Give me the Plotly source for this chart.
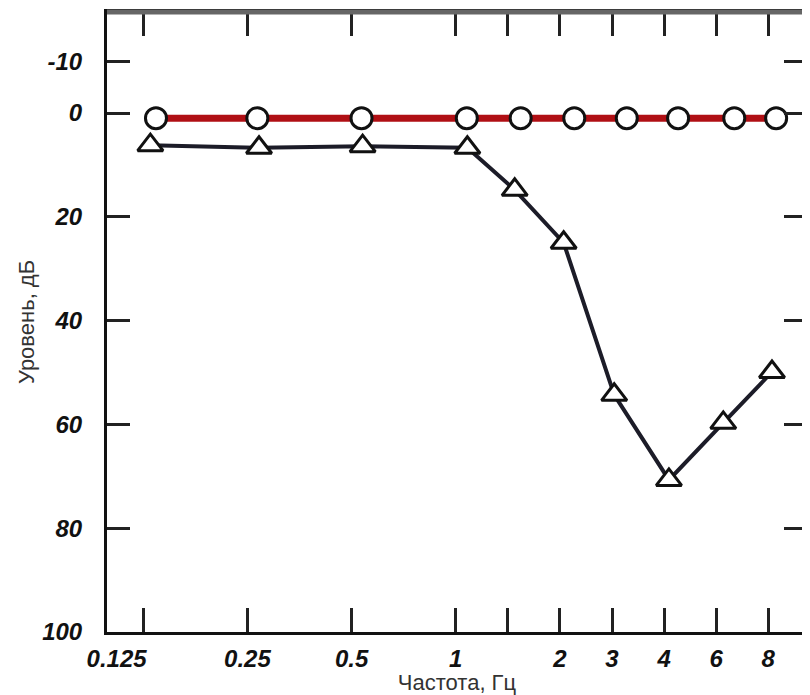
import plotly.graph_objects as go

# Data
freq_circle = [0.136, 0.267, 0.534, 1.076, 1.54, 2.2, 3.12, 4.39, 6.38, 8.43]
level_circle = [1, 1, 1, 1, 1, 1, 1, 1, 1, 1]

freq_triangle = [0.131, 0.27, 0.538, 1.08, 1.48, 2.05, 2.87, 4.13, 5.93, 8.2]
level_triangle = [6.2, 6.7, 6.4, 6.7, 14.8, 25.0, 54.3, 70.7, 59.7, 49.9]

x_tick_vals = [0.125, 0.25, 0.5, 1, 1.4142, 2, 2.8284, 4, 5.6569, 8]
x_tick_text = ["0.125" + "\u00a0" * 8, "0.25", "0.5", "1", "", "2", "3", "4", "6", "8"]
y_tick_vals = [-10, 0, 20, 40, 60, 80, 100]
y_tick_text = ["-10", "0", "20", "40", "60", "80", "100"]

tick_font = dict(family="Liberation Sans", size=24, color="#111", style="italic", weight="bold")
title_font = dict(family="Liberation Sans", size=22, color="#333")

fig = go.Figure()

fig.add_trace(go.Scatter(
    x=freq_triangle, y=level_triangle, mode="lines+markers",
    line=dict(color="#1c1c28", width=4),
    marker=dict(symbol="triangle-up", size=22, color="white",
                line=dict(color="#111", width=3)),
    showlegend=False,
))
fig.add_trace(go.Scatter(
    x=freq_circle, y=level_circle, mode="lines+markers",
    line=dict(color="#b00f14", width=7),
    marker=dict(symbol="circle", size=21, color="white",
                line=dict(color="#111", width=3)),
    showlegend=False,
))

fig.update_layout(
    width=802, height=687,
    margin=dict(l=99, r=0, t=4, b=63),
    paper_bgcolor="white", plot_bgcolor="white",
    xaxis=dict(
        type="log",
        range=[-1.008, 1.015],
        tickmode="array", tickvals=x_tick_vals, ticktext=x_tick_text,
        ticks="inside", ticklen=24, tickwidth=3, tickcolor="#222",
        showline=True, linecolor="#111", linewidth=3, mirror="ticks",
        showgrid=False, zeroline=False,
        tickfont=tick_font, ticklabelstandoff=3,
        title=dict(text="Частота, Гц", font=title_font, standoff=1),
    ),
    yaxis=dict(
        range=[100, -19.46],
        tickmode="array", tickvals=y_tick_vals, ticktext=y_tick_text,
        ticks="inside", ticklen=23, tickwidth=3, tickcolor="#222",
        showline=True, linecolor="#111", linewidth=3, mirror="ticks",
        showgrid=False, zeroline=False,
        tickfont=tick_font, ticklabelstandoff=17,
        title=dict(text="Уровень, дБ", font=title_font, standoff=2),
    ),
)

# grey hatched-looking top border
fig.add_shape(type="line", xref="paper", yref="paper", x0=0, x1=1, y0=1, y1=1,
              line=dict(color="#666", width=5))

fig.write_html("out.html")
